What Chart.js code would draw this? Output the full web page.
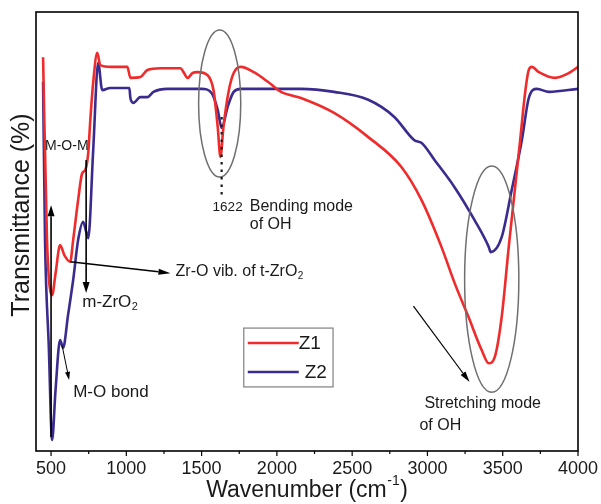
<!DOCTYPE html>
<html>
<head>
<meta charset="utf-8">
<script src="https://cdn.jsdelivr.net/npm/chart.js@4/dist/chart.umd.min.js"></script>
<style>
html, body { margin: 0; padding: 0; background: #fff; }
</style>
</head>
<body>
<canvas id="grafica" width="601" height="504"></canvas>
<script>
// FTIR spectra (wavenumber in cm-1, transmittance in arbitrary %)
const z1Wave = [447, 473, 507, 530, 560, 590, 627, 647, 680, 707, 727, 747, 760, 780, 807, 827, 900, 1007, 1027, 1093, 1140, 1227, 1360, 1380, 1407, 1440, 1473, 1540, 1580, 1607, 1625, 1645, 1680, 1713, 1760, 1847, 1940, 2027, 2160, 2380, 2607, 2827, 2960, 3093, 3180, 3273, 3360, 3407, 3447, 3493, 3540, 3607, 3673, 3693, 3740, 3847, 3940, 4000];
const z1T    = [89.7, 48.1, 35.5, 40.5, 46.9, 44.5, 43.1, 48.1, 57.2, 63.3, 64.0, 67.9, 75.0, 84.0, 90.7, 87.9, 87.5, 87.5, 85.0, 85.2, 86.8, 87.2, 87.2, 86.3, 85.0, 86.1, 86.3, 85.6, 82.0, 73.8, 67.0, 73.8, 82.0, 86.1, 87.5, 86.3, 84.1, 81.8, 80.4, 77.0, 71.5, 64.7, 57.2, 46.5, 38.3, 30.5, 23.0, 20.0, 21.4, 30.5, 46.5, 68.0, 86.8, 87.5, 86.3, 85.0, 86.1, 87.5];

const z2Wave = [447, 460, 485, 507, 530, 560, 580, 613, 647, 680, 713, 733, 747, 780, 813, 840, 893, 1020, 1027, 1047, 1093, 1140, 1180, 1273, 1500, 1567, 1607, 1633, 1673, 1713, 1760, 2160, 2380, 2607, 2780, 2913, 2960, 3047, 3180, 3313, 3407, 3420, 3493, 3560, 3627, 3673, 3727, 3807, 4000];
const z2T    = [84.1, 48.0, 23.8, 2.5, 14.0, 25.3, 23.5, 31.0, 39.0, 48.1, 52.2, 50.0, 48.5, 68.6, 88.4, 82.2, 82.7, 82.7, 80.4, 79.3, 80.6, 80.6, 81.8, 82.5, 82.5, 81.5, 77.7, 73.6, 78.4, 81.8, 82.5, 82.5, 81.8, 80.0, 76.1, 70.8, 70.2, 66.3, 60.1, 52.6, 46.5, 45.3, 48.7, 59.5, 70.8, 80.4, 82.5, 81.8, 82.5];

const xTicks = [500, 1000, 1500, 2000, 2500, 3000, 3500, 4000];
const series = ["Z1", "Z2"];

const fuente = '"Liberation Sans", Arial, sans-serif';
const negro = "#1a1a1a";

function flecha(ctx, x1, y1, x2, y2, lw, largo, ancho) {
    const ang = Math.atan2(y2 - y1, x2 - x1);
    const bx = x2 - largo * Math.cos(ang);
    const by = y2 - largo * Math.sin(ang);
    ctx.lineWidth = lw;
    ctx.beginPath();
    ctx.moveTo(x1, y1);
    ctx.lineTo(bx, by);
    ctx.stroke();
    ctx.beginPath();
    ctx.moveTo(x2, y2);
    ctx.lineTo(bx + ancho / 2 * Math.sin(ang), by - ancho / 2 * Math.cos(ang));
    ctx.lineTo(bx - ancho / 2 * Math.sin(ang), by + ancho / 2 * Math.cos(ang));
    ctx.closePath();
    ctx.fill();
}

// text with a trailing subscript / superscript
function textoIndice(ctx, base, indice, x, y, size, sube) {
    ctx.font = size + "px " + fuente;
    ctx.fillText(base, x, y);
    const w = ctx.measureText(base).width;
    ctx.font = Math.round(size * 0.62) + "px " + fuente;
    ctx.fillText(indice, x + w + 0.5, y + (sube ? -size * 0.42 : size * 0.3));
}

const anotaciones = {
    id: "anotaciones",
    afterDraw(chart) {
        const { ctx, chartArea: a, scales: { x, y } } = chart;
        const px = v => x.getPixelForValue(v);
        const py = v => y.getPixelForValue(v);
        ctx.save();

        // frame
        ctx.strokeStyle = "#000";
        ctx.lineWidth = 1.6;
        ctx.strokeRect(a.left, a.top, a.right - a.left, a.bottom - a.top);

        // x ticks, major and minor
        ctx.lineWidth = 1.2;
        for (let v = 500; v <= 4000; v += 250) {
            const len = v % 500 === 0 ? 5 : 3;
            ctx.beginPath();
            ctx.moveTo(px(v), a.bottom);
            ctx.lineTo(px(v), a.bottom + len);
            ctx.stroke();
        }

        ctx.fillStyle = negro;
        ctx.strokeStyle = negro;
        ctx.textBaseline = "middle";

        // axis titles
        ctx.font = "23px " + fuente;
        const wBase = ctx.measureText("Wavenumber (cm").width;
        ctx.font = "14px " + fuente;
        const wSup = ctx.measureText("-1").width;
        ctx.font = "23px " + fuente;
        const wPar = ctx.measureText(")").width;
        let tx = 307 - (wBase + wSup + wPar + 1) / 2;
        ctx.textAlign = "left";
        ctx.fillText("Wavenumber (cm", tx, 491);
        ctx.font = "14px " + fuente;
        ctx.fillText("-1", tx + wBase + 0.5, 481);
        ctx.font = "23px " + fuente;
        ctx.fillText(")", tx + wBase + wSup + 1, 491);

        ctx.save();
        ctx.translate(22, 215);
        ctx.rotate(-Math.PI / 2);
        ctx.textAlign = "center";
        ctx.font = "25px " + fuente;
        ctx.fillText("Transmittance (%)", 0, 0);
        ctx.restore();

        // ellipses
        ctx.strokeStyle = "#6f6f6f";
        ctx.lineWidth = 1.5;
        [[1480, 1760, 95.9, 62.4], [3247, 3607, 64.9, 13.4]].forEach(e => {
            const x1 = px(e[0]), x2 = px(e[1]), y1 = py(e[2]), y2 = py(e[3]);
            ctx.beginPath();
            ctx.ellipse((x1 + x2) / 2, (y1 + y2) / 2, (x2 - x1) / 2, (y2 - y1) / 2, 0, 0, Math.PI * 2);
            ctx.stroke();
        });

        // dotted marker at 1622
        ctx.strokeStyle = negro;
        ctx.lineWidth = 2.2;
        ctx.setLineDash([2.5, 5]);
        ctx.beginPath();
        ctx.moveTo(px(1633), py(76.1));
        ctx.lineTo(px(1633), py(57.6));
        ctx.stroke();
        ctx.setLineDash([]);

        // arrows
        ctx.fillStyle = "#000";
        ctx.strokeStyle = "#000";
        flecha(ctx, px(500), py(3.2), px(500), py(56.0), 1.6, 11, 7);
        flecha(ctx, px(733), py(66.3), px(733), py(36.0), 1.6, 11, 7);
        flecha(ctx, px(627), py(43.1), px(1293), py(40.5), 1.5, 12, 6);
        flecha(ctx, px(573), py(24.1), px(620), py(16.2), 1, 8, 5);
        flecha(ctx, px(2907), py(33.0), px(3280), py(15.7), 1.2, 11, 6);

        // labels
        ctx.fillStyle = negro;
        ctx.textAlign = "left";
        ctx.font = "14px " + fuente;
        ctx.fillText("M-O-M", px(460), py(69.5));
        textoIndice(ctx, "m-ZrO", "2", px(707), py(33.9), 17, false);
        textoIndice(ctx, "Zr-O vib. of t-ZrO", "2", px(1327), py(40.8), 16, false);
        ctx.font = "17px " + fuente;
        ctx.fillText("M-O bond", px(647), py(13.4));
        ctx.font = "13.5px " + fuente;
        ctx.fillText("1622", px(1573), py(55.6));
        ctx.font = "16px " + fuente;
        ctx.fillText("Bending mode", px(1820), py(55.6));
        ctx.fillText("of OH", px(1820), py(51.5));
        ctx.fillText("Stretching mode", px(2980), py(10.7));
        ctx.fillText("of OH", px(2947), py(5.9));

        // legend box
        const lx = px(1780), ly = py(28.0), lw = px(2373) - lx, lh = py(14.6) - ly;
        ctx.fillStyle = "#fff";
        ctx.fillRect(lx, ly, lw, lh);
        ctx.strokeStyle = "#8a8a8a";
        ctx.lineWidth = 1.3;
        ctx.strokeRect(lx, ly, lw, lh);
        ctx.font = "19px " + fuente;
        chart.data.datasets.forEach((ds, i) => {
            const yy = ly + 15 + i * 29;
            ctx.strokeStyle = ds.borderColor;
            ctx.lineWidth = 2.5;
            ctx.beginPath();
            ctx.moveTo(lx + 4, yy);
            ctx.lineTo(lx + 55, yy);
            ctx.stroke();
            ctx.fillStyle = negro;
            ctx.fillText(ds.label, lx + 55 + (i === 0 ? 0 : 6), yy + 1);
        });

        ctx.restore();
    }
};

const ctx = document.getElementById("grafica").getContext("2d");

const grafica = new Chart(ctx, {
    type: "line",
    data: {
        datasets: [{
            label: series[0],
            data: z1Wave.map((w, i) => ({ x: w, y: z1T[i] })),
            borderColor: "#ef2b2b",
            borderWidth: 2.6,
            pointRadius: 0,
            cubicInterpolationMode: "monotone",
            fill: false
        }, {
            label: series[1],
            data: z2Wave.map((w, i) => ({ x: w, y: z2T[i] })),
            borderColor: "#3b2b8e",
            borderWidth: 2.6,
            pointRadius: 0,
            cubicInterpolationMode: "monotone",
            fill: false
        }]
    },
    options: {
        responsive: false,
        animation: false,
        layout: { padding: { top: 12, right: 23, left: 0, bottom: 0 } },
        plugins: {
            legend: { display: false },
            tooltip: { enabled: false }
        },
        scales: {
            x: {
                type: "linear",
                min: 400,
                max: 4000,
                afterBuildTicks: s => { s.ticks = xTicks.map(v => ({ value: v })); },
                afterFit: s => { s.height = 53; },
                grid: { display: false },
                border: { display: false },
                ticks: {
                    autoSkip: false,
                    maxRotation: 0,
                    padding: -1,
                    color: negro,
                    font: { family: fuente, size: 18 },
                    callback: v => String(v)
                }
            },
            y: {
                min: 0,
                max: 100,
                afterFit: s => { s.width = 36; },
                grid: { display: false },
                border: { display: false },
                ticks: { display: false }
            }
        }
    },
    plugins: [anotaciones]
});
</script>
</body>
</html>
